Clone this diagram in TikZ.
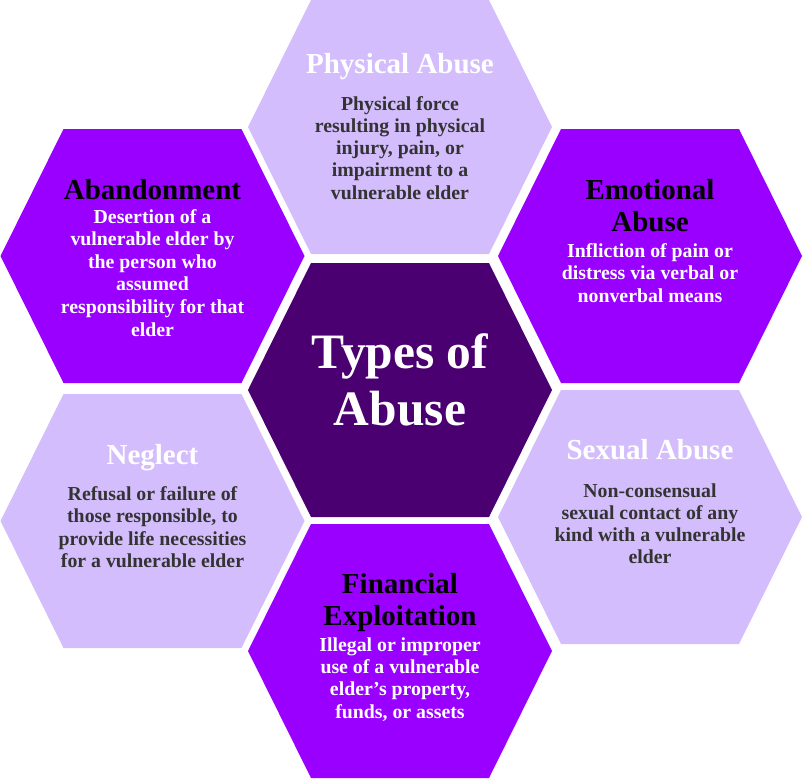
\documentclass[tikz,border=0pt]{standalone}
\usepackage{fontspec}
\setmainfont{Liberation Serif}
\definecolor{lightlav}{RGB}{212,189,252}
\definecolor{brightpur}{RGB}{153,0,255}
\definecolor{darkpur}{RGB}{74,0,112}
\definecolor{desctext}{RGB}{51,51,51}
\newcommand{\hexpath}[3]{%
  \fill[#3] (#1-152,#2) -- (#1-89,#2-127) -- (#1+89,#2-127) -- (#1+152,#2) -- (#1+89,#2+127) -- (#1-89,#2+127) -- cycle;}
\newcommand{\blk}[3]{{\fontsize{#1}{#2}\selectfont\bfseries\begin{tabular}[t]{@{}c@{}}#3\end{tabular}}}
\tikzset{
  txt/.style={anchor=base, inner sep=0pt, outer sep=0pt},
}
\begin{document}
\begin{tikzpicture}[x=1pt,y=-1pt]
\useasboundingbox (0,0) rectangle (803,780);
% hexagons
\hexpath{400}{127}{lightlav}
\hexpath{152.5}{256}{brightpur}
\hexpath{650}{256}{brightpur}
\hexpath{400}{390}{darkpur}
\hexpath{152.5}{521}{lightlav}
\hexpath{650}{517}{lightlav}
\hexpath{400}{651}{brightpur}
% texts
\node[txt, text=white] (physT) at (400,73) {\blk{29}{32}{Physical Abuse}};
\node[txt, text=desctext] (physD) at (400,110) {\blk{19.8}{22.3}{Physical force\\resulting in physical\\injury, pain, or\\impairment to a\\vulnerable elder}};
\node[txt, text=black] (abanT) at (152.5,199) {\blk{29}{32}{Abandonment}};
\node[txt, text=white] (abanD) at (152.5,223) {\blk{19.8}{22.6}{Desertion of a\\vulnerable elder by\\the person who\\assumed\\responsibility for that\\elder}};
\node[txt, text=black] (emoT) at (650,199) {\blk{29}{32}{Emotional\\Abuse}};
\node[txt, text=white] (emoD) at (650,257) {\blk{19.8}{22.5}{Infliction of pain or\\distress via verbal or\\nonverbal means}};
\node[txt, text=white] (centT) at (400,368) {\blk{49.5}{57}{Types of\\Abuse}};
\node[txt, text=white] (negT) at (152.5,464) {\blk{29}{32}{Neglect}};
\node[txt, text=desctext] (negD) at (152.5,500) {\blk{19.8}{22.5}{Refusal or failure of\\those responsible, to\\provide life necessities\\for a vulnerable elder}};
\node[txt, text=white] (sexT) at (650,459) {\blk{29}{32}{Sexual Abuse}};
\node[txt, text=desctext] (sexD) at (650,497) {\blk{19.8}{22.2}{Non-consensual\\sexual contact of any\\kind with a vulnerable\\elder}};
\node[txt, text=black] (finT) at (400,593) {\blk{29}{32}{Financial\\Exploitation}};
\node[txt, text=white] (finD) at (400,651) {\blk{19.8}{22.4}{Illegal or improper\\use of a vulnerable\\elder’s property,\\funds, or assets}};
\end{tikzpicture}
\end{document}
